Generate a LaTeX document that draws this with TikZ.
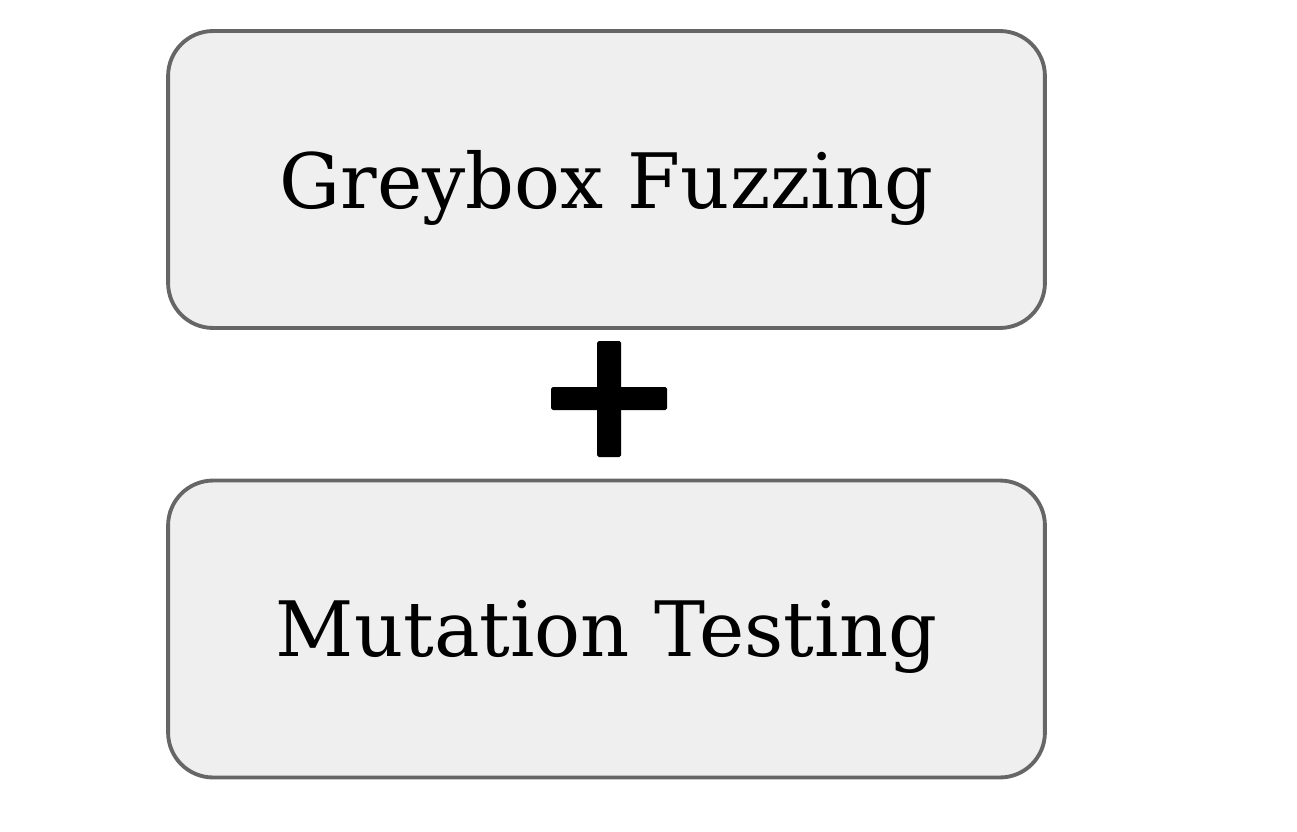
\documentclass[tikz,border=0pt]{standalone}
\usepackage{fontspec}
\setmainfont{DejaVu Serif}
\usetikzlibrary{positioning}
\definecolor{boxfill}{HTML}{EFEFEF}
\definecolor{boxline}{HTML}{666666}

\begin{document}
\begin{tikzpicture}[x=0.02cm,y=-0.02cm,
  box/.style={draw=boxline,fill=boxfill,line width=2.2pt,rounded corners=0.9cm,
    minimum width=17.54cm,minimum height=5.94cm,text depth=0.05em,
    font=\fontsize{43.5}{50}\selectfont}]
\useasboundingbox (0,0) rectangle (1297,831);
\node[box] (fuzz) at (606.5,179.5) {Greybox Fuzzing};
\node[box] (mut) at (606.5,629) {Mutation Testing};
% plus sign between the boxes
\fill[rounded corners=1pt] (597,341) rectangle (621,457);
\fill[rounded corners=1pt] (551,387) rectangle (667,410);
\end{tikzpicture}
\end{document}
